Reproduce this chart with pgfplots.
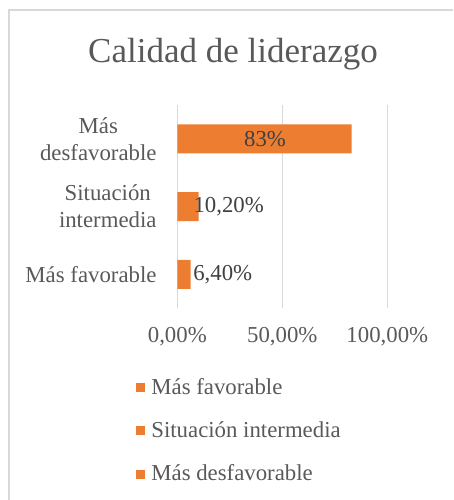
\documentclass[border=0pt]{standalone}
\usepackage{fontspec}
\setmainfont{Liberation Serif}
\usepackage{pgfplots}
\usepackage{pgfplotstable}
\pgfplotsset{compat=1.18}
\definecolor{barorange}{HTML}{ED7D31}
\definecolor{txtgray}{HTML}{595959}
\definecolor{lblgray}{HTML}{404040}
\definecolor{gridgray}{HTML}{D9D9D9}
\newcommand{\lblfont}{\fontsize{22.8}{27}\selectfont}
\pgfplotstableread{
y x lbl dx
0 6.4 6,40 32
1 10.2 10,20 30
2 83 83 -86.6
}\datatable
\begin{document}
\begin{tikzpicture}
\useasboundingbox (0pt,0pt) rectangle (453pt,500pt);
\draw[gridgray, line width=1.5pt] (9pt,0pt) -- (9pt,490pt) -- (453pt,490pt);
\node[text=txtgray, anchor=base, font=\fontsize{35}{40}\selectfont, inner sep=0pt] at (233pt, 437pt) {Calidad de liderazgo};
\begin{axis}[
  at={(177.3pt,191.7pt)}, anchor=south west,
  scale only axis, width=210pt, height=203.3pt,
  xmin=0, xmax=100, ymin=-0.5, ymax=2.5,
  xbar, bar width=29pt,
  axis lines*=left,
  x axis line style={draw=none},
  y axis line style={gridgray, line width=1.3pt},
  xtick={0,50,100},
  xticklabels={{0,00\%},{50,00\%},{100,00\%}},
  xmajorgrids, grid style={gridgray, line width=1.3pt},
  x tick style={draw=none}, y tick style={draw=none},
  ytick={0,1,2},
  yticklabels={{Más favorable},{Situación\\intermedia},{Más\\desfavorable}},
  yticklabel style={align=center, font=\lblfont, text=txtgray, xshift=-13pt},
  xticklabel style={font=\lblfont, text=txtgray, yshift=-16pt},
  legend style={draw=none, fill=none, inner sep=0pt, outer sep=0pt,
    at={(rel axis cs:-0.1967,-0.343)}, anchor=north west,
    font=\lblfont, text=txtgray, row sep=26pt, column sep=7pt,
    nodes={inner sep=0pt}},
  legend cell align=left,
  legend image code/.code={\fill[barorange] (0pt,-4pt) rectangle (8pt,4pt);},
]
\addplot[fill=barorange, draw=none, forget plot, bar shift=0pt,
  point meta=explicit symbolic,
  nodes near coords={\pgfplotspointmeta\%},
  visualization depends on={\thisrow{dx} \as \dx},
  every node near coord/.append style={anchor=center, xshift=\dx pt, font=\lblfont, text=lblgray}
] table[x=x, y=y, meta=lbl] {\datatable};
\draw[gridgray, line width=1.3pt] (axis cs:0,-0.5) -- ++(-5pt,0pt);
\draw[gridgray, line width=1.3pt] (axis cs:0,0.5) -- ++(-5pt,0pt);
\draw[gridgray, line width=1.3pt] (axis cs:0,1.5) -- ++(-5pt,0pt);
\draw[gridgray, line width=1.3pt] (axis cs:0,2.5) -- ++(-5pt,0pt);
\addlegendimage{barorange}
\addlegendentry{Más favorable}
\addlegendimage{barorange}
\addlegendentry{Situación intermedia}
\addlegendimage{barorange}
\addlegendentry{Más desfavorable}
\end{axis}
\end{tikzpicture}
\end{document}
